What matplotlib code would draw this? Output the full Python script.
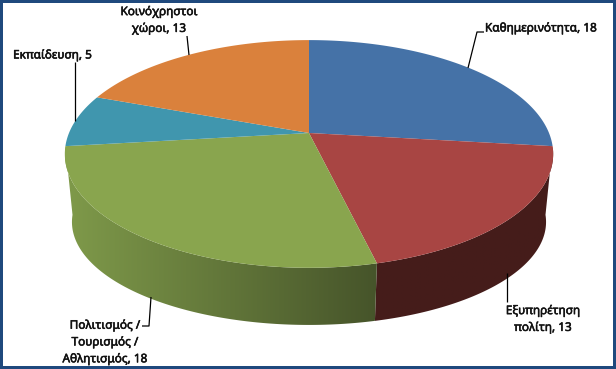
import numpy as np
import matplotlib
matplotlib.use("Agg")
import matplotlib.pyplot as plt
import matplotlib.patheffects as pe
from matplotlib.colors import to_rgb
from matplotlib.patches import Polygon

categories = ["Καθημερινότητα", "Εξυπηρέτηση\nπολίτη", "Πολιτισμός /\nΤουρισμός /\nΑθλητισμός", "Εκπαίδευση", "Κοινόχρηστοι\nχώροι"]
values = [18, 13, 18, 5, 13]
top_colors = ["#4572A7", "#A84543", "#89A54E", "#4096AE", "#DA813C"]
side_from = {1: "#451C1A", 2: "#7F9A4A"}
side_to = {1: "#451D1B", 2: "#46542A"}

W, H = 616, 369
fig = plt.figure(figsize=(W / 100, H / 100), dpi=100, facecolor="#1F497D")
ax = fig.add_axes([0, 0, 1, 1])
ax.set_xlim(0, W)
ax.set_ylim(H, 0)
ax.axis("off")
ax.add_patch(plt.Rectangle((3, 3), W - 6, H - 6, fc="white", ec="none", zorder=0))

K = 0.184
def project(theta, r=1.0, cx=309.0, cy=133.0, a=240.0, b=110.0):
    u, v = r * np.sin(theta), r * np.cos(theta)
    w = 1 + K * v
    return cx + a * u / w, cy - b * v / w

def project_low(theta):
    return project(theta, cy=203.0, a=233.0, b=99.5)

edges = np.concatenate([[0], np.cumsum(values)]) / sum(values) * 2 * np.pi

for i in side_from:
    th = np.linspace(edges[i], edges[i + 1], 200)
    x1, y1 = project(th)
    x2, y2 = project_low(th)
    px = np.r_[x1, x2[::-1]]
    py = np.r_[y1, y2[::-1]]
    c0, c1 = np.array(to_rgb(side_from[i])), np.array(to_rgb(side_to[i]))
    x0, x9 = px.min(), px.max()
    s = np.linspace(0, 1, 256)[None, :, None]
    grad = c0[None, None, :] + (c1 - c0)[None, None, :] * s
    im = ax.imshow(grad, extent=[x0, x9, py.max(), py.min()], aspect="auto",
                   interpolation="bilinear", zorder=2)
    patch = Polygon(np.c_[px, py], closed=True, transform=ax.transData, fc="none", ec="none")
    ax.add_patch(patch)
    im.set_clip_path(patch)
ax.set_xlim(0, W)
ax.set_ylim(H, 0)

cx0, cy0 = project(np.array([0.0]), r=0.0)
for i in range(len(values)):
    th = np.linspace(edges[i], edges[i + 1], 200)
    x, y = project(th)
    ax.fill(np.r_[cx0, x], np.r_[cy0, y], fc=top_colors[i], ec="none", zorder=3)

leaders = [
    ([468, 477, 484], [68, 32, 32]),
    ([507, 507], [273, 302]),
    ([151, 149, 142], [297, 326, 326]),
    ([75, 75], [121, 62]),
    ([189, 187], [55, 36]),
]
for lx, ly in leaders:
    ax.plot(lx, ly, color="black", lw=0.9, zorder=4, solid_capstyle="butt")

label_pos = [(541, 28), (543, 319), (105, 342), (52.5, 55), (159, 20)]
for cat, val, (px, py) in zip(categories, values, label_pos):
    ax.text(px, py, f"{cat}, {val}", ha="center", va="center", ma="center",
            fontsize=8.5, family="Noto Sans", color="#111111",
            linespacing=1.38, zorder=5,
            path_effects=[pe.withStroke(linewidth=0.4, foreground="#111111")])

fig.savefig("out.png", dpi=100, facecolor=fig.get_facecolor())
